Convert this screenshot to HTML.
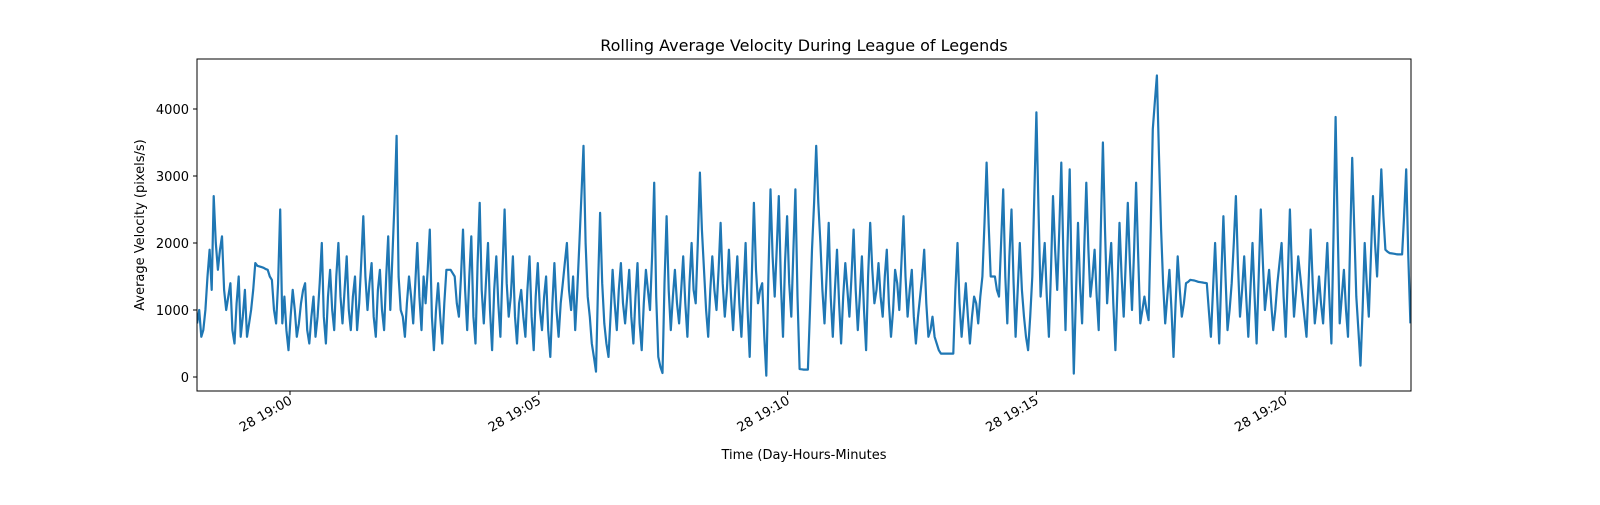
<!DOCTYPE html>
<html><head><meta charset="utf-8"><style>
body{margin:0;background:#fff;}
svg text{font-family:"DejaVu Sans","Liberation Sans",sans-serif;fill:#000;}
</style></head><body>
<svg id="chart" width="1600" height="500">
<rect width="1600" height="500" fill="#fff"/>
<text x="804" y="51" font-size="16" text-anchor="middle">Rolling Average Velocity During League of Legends</text>
<text transform="translate(144,225) rotate(-90)" font-size="13" text-anchor="middle">Average Velocity (pixels/s)</text>
<text x="804" y="459" font-size="13" text-anchor="middle">Time (Day-Hours-Minutes</text>
<g id="yticks"></g><g id="xticks"></g>
<clipPath id="clip"><rect x="197" y="59" width="1214" height="332"/></clipPath>
<path id="line" clip-path="url(#clip)" fill="none" stroke="#1f77b4" stroke-width="2.2" stroke-linejoin="round"/>
<rect x="197" y="59" width="1214" height="332" fill="none" stroke="#000" stroke-width="1"/>
</svg>
<script>
const startSec = -112;
const stepSec = 5.01;
const velocities = [
800,600,1000,1900,2700,1600,2100,1000,1400,500,
1500,900,600,1000,1700,1650,1630,1600,1450,800,
2500,1200,400,1300,600,1100,1400,500,1200,900,
2000,500,1600,700,2000,800,1800,700,1500,1100,
2400,1000,1700,600,1600,700,2100,1800,3600,1000,
600,1500,800,2000,700,1100,2200,400,1400,500,
1600,1600,1500,900,2200,700,2100,500,2600,800,
2000,400,1800,600,2500,900,1800,500,1300,600,
1800,400,1700,700,1500,300,1700,600,1400,2000,
1000,700,2000,3450,1200,500,80,2450,800,300,
1600,700,1700,800,1600,500,1700,400,1600,1000,
2900,300,60,2400,700,1600,800,1800,600,2000,
1100,3050,1600,600,1800,1000,2300,900,1900,700,
1800,600,2000,300,2600,1100,1400,20,2800,1200,
2700,600,2400,900,2800,120,110,110,1900,3450,
2000,800,2300,600,1900,500,1700,900,2200,700,
1800,400,2300,1100,1700,900,1900,600,1600,1000,
2400,900,1600,500,1200,1900,600,900,500,350,
350,350,350,2000,600,1400,500,1200,800,1500,
3200,1500,1500,1200,2800,800,2500,600,2000,900,
400,1500,3950,1200,2000,600,2700,1300,3200,700,
3100,50,2300,800,2900,1200,1900,700,3500,1100,
2000,400,2300,900,2600,1000,2900,800,1200,850,
3700,4500,2200,800,1600,300,1800,900,1400,1450,
1440,1420,1410,1400,600,2000,500,2400,700,1400,
2700,900,1800,600,2000,500,2500,1000,1600,700,
1400,2000,600,2500,900,1800,1200,600,2200,800,
1500,800,2000,500,3880,800,1600,600,3270,1200,
170,2000,900,2700,1500,3100,1900,1850,1840,1830,
1830,3100,800];
// intermediate readings between consecutive samples above
const midVelocities = [
1000,700,1500,1300,2000,1900,1300,1200,700,1100,
600,1300,800,1300,1660,1640,1610,1500,1000,1400,
800,700,900,1000,800,1300,700,900,600,1400,
900,1200,1000,1500,1200,1300,1000,1200,700,1700,
1500,1400,900,1300,1000,1500,1000,2600,1500,900,
1100,1200,1400,1200,1500,1600,900,1000,900,1100,
1600,1550,1100,1500,1300,1500,900,1700,1300,1400,
1000,1300,1100,1600,1400,1200,900,1100,900,1300,
900,1200,1000,1200,700,1100,1000,1100,1700,1300,
1500,1300,2700,2000,900,300,1400,1400,500,900,
1100,1300,1100,1200,900,1200,800,1100,1300,1800,
1200,150,1400,1300,1200,1100,1300,1100,1400,1300,
2000,2200,1000,1300,1300,1600,1400,1300,1200,1300,
1100,1300,1000,1500,1600,1300,600,1500,1800,1900,
1400,1700,1400,1900,1200,115,110,1000,2600,2600,
1300,1500,1200,1300,1100,1200,1300,1500,1300,1200,
1000,1500,1600,1300,1200,1500,1100,1000,1400,1700,
1500,1300,900,900,1500,1100,700,600,400,350,
350,350,1300,1100,1000,900,900,1100,1200,2300,
2300,1500,1300,2000,1500,1800,1400,1300,1300,600,
900,2700,2500,1600,1200,1600,1900,2200,1800,2000,
1400,1200,1400,1900,1900,1500,1200,2200,2200,1600,
1100,1300,1500,1700,1700,1900,1800,1000,1000,2200,
4100,3300,1400,1200,1000,1100,1300,1100,1420,1445,
1430,1415,1405,1000,1300,1200,1500,1500,1000,2000,
1700,1300,1200,1300,1200,1500,1700,1300,1100,1000,
1700,1200,1500,1600,1300,1500,900,1400,1400,1100,
1100,1400,1200,2100,2200,1200,1000,2000,2200,700,
1000,1400,1800,2000,2300,2400,1870,1845,1835,1830,
2400,1800];
const yTickValues = [0,1000,2000,3000,4000];
const xTickSeconds = [0,300,600,900,1200];
const xTickLabels = ["28 19:00","28 19:05","28 19:10","28 19:15","28 19:20"];

const NS="http://www.w3.org/2000/svg";
function xs(s){return 290 + s*(248.8/300);}
function ys(v){return 377 - v*0.067;}
let d="";
velocities.forEach((v,i)=>{
  const t=startSec+i*stepSec;
  d+=(i?"L":"M")+xs(t).toFixed(1)+","+ys(v).toFixed(1);
  if(i<midVelocities.length){
    d+="L"+xs(t+stepSec/2).toFixed(1)+","+ys(midVelocities[i]).toFixed(1);
  }
});
document.getElementById('line').setAttribute('d',d);

const yg=document.getElementById('yticks');
yTickValues.forEach(v=>{
  const y=ys(v);
  const l=document.createElementNS(NS,'line');
  l.setAttribute('x1',193);l.setAttribute('x2',197);l.setAttribute('y1',y);l.setAttribute('y2',y);l.setAttribute('stroke','#000');
  
  
  yg.appendChild(l);
  const t=document.createElementNS(NS,'text');
  t.setAttribute('x',189);t.setAttribute('y',y+5);t.setAttribute('font-size','13');t.setAttribute('text-anchor','end');
  t.textContent=v;
  
  
  yg.appendChild(t);
});
const xg=document.getElementById('xticks');
xTickSeconds.forEach((s,i)=>{
  const x=xs(s);
  const l=document.createElementNS(NS,'line');
  l.setAttribute('x1',x);l.setAttribute('x2',x);l.setAttribute('y1',391);l.setAttribute('y2',395);l.setAttribute('stroke','#000');
  
  
  xg.appendChild(l);
  const t=document.createElementNS(NS,'text');
  t.setAttribute('transform','translate('+(x+3)+',403) rotate(-30)');
  t.setAttribute('font-size','13');t.setAttribute('text-anchor','end');
  t.textContent=xTickLabels[i];
  
  
  xg.appendChild(t);
});
</script>
</body></html>
